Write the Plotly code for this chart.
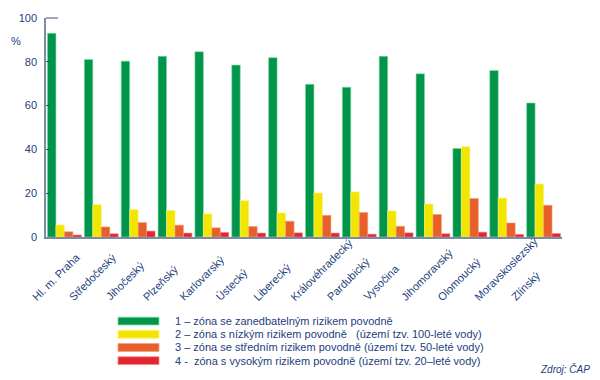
import plotly.graph_objects as go

categories = ["Hl. m. Praha", "Středočeský", "Jihočeský", "Plzeňský", "Karlovarský",
              "Ústecký", "Liberecký", "Královéhradecký", "Pardubický", "Vysočina",
              "Jihomoravský", "Olomoucký", "Moravskoslezský", "Zlínský"]
zone1 = [93.0, 81.0, 80.3, 82.5, 84.6, 78.5, 81.9, 69.7, 68.4, 82.5, 74.5, 40.4, 76.0, 61.2]
zone2 = [5.5, 14.8, 12.5, 12.1, 10.6, 16.6, 11.0, 20.1, 20.6, 11.9, 15.1, 41.2, 17.8, 24.2]
zone3 = [2.4, 4.6, 6.6, 5.4, 4.2, 4.8, 7.2, 9.9, 11.2, 4.9, 10.3, 17.6, 6.4, 14.5]
zone4 = [0.9, 1.5, 2.7, 1.8, 2.1, 1.8, 1.9, 1.8, 1.3, 1.9, 1.5, 2.2, 1.2, 1.6]
series_names = [
    "1 – zóna se zanedbatelným rizikem povodně",
    "2 – zóna s nízkým rizikem povodně   (území tzv. 100-leté vody)",
    "3 – zóna se středním rizikem povodně (území tzv. 50-leté vody)",
    "4 -  zóna s vysokým rizikem povodně (území tzv. 20–leté vody)",
]
y_ticks = [0, 20, 40, 60, 80, 100]

colors = ["#00954a", "#f2e500", "#e85f2a", "#e3262d"]
edges = ["#7fdca6", "#fbf47a", "#f4a07e", "#f08a8a"]
text_col = "#23407e"
axis_col = "#7c8aa6"
FONT = "Arial, Liberation Sans, sans-serif"
LABEL_SIZE = 11

fig = go.Figure()
for name, vals, c, e in zip(series_names, [zone1, zone2, zone3, zone4], colors, edges):
    fig.add_trace(go.Bar(x=categories, y=vals, name=name, marker=dict(color=c, line=dict(color=e, width=0.6)),
                         showlegend=False))

# plot area geometry (pixels)
L, R, T, B = 46, 562, 13, 237
W, H = R - L, B - T
STEP = W / len(categories)

def px_x(px):
    return (px - L) / W

def px_y(py):
    return (B - py) / H

# approximate Arial advance widths (per 1000 em) to centre the rotated labels
_w = {" ": 278, ".": 278, "a": 556, "b": 556, "c": 500, "d": 556, "e": 556, "f": 278, "g": 556,
      "h": 556, "i": 222, "j": 222, "k": 500, "l": 222, "m": 833, "n": 556, "o": 556, "p": 556,
      "r": 333, "s": 500, "t": 278, "u": 556, "v": 500, "w": 722, "y": 500, "z": 500,
      "H": 722, "K": 667, "J": 500, "P": 667, "S": 667, "V": 667, "U": 722, "O": 778,
      "M": 833, "L": 556, "Z": 611}
_base = str.maketrans("áčéěíňóřšťúůýžÚŽŘČŠ", "aceeinorstuuyzUZRCS")

def text_width(s, size):
    return sum(_w.get(ch, 556) for ch in s.translate(_base)) * size / 1000.0

# category labels: rotated 45°, all starting on a common line below the axis
c45 = 0.7071
for i, cat in enumerate(categories):
    lt = text_width(cat, LABEL_SIZE)
    start_x = 37 + STEP * i
    start_y = 302
    cx = start_x + (lt / 2) * c45 - 3.9 * c45
    cy = start_y - (lt / 2) * c45 - 3.9 * c45
    centre = L + STEP * (i + 0.5)
    fig.add_annotation(xref="x", yref="paper", x=cat, y=px_y(cy), text=cat,
                       textangle=-45, showarrow=False, xanchor="center", yanchor="middle",
                       xshift=cx - centre, font=dict(family=FONT, size=LABEL_SIZE, color=text_col))

row_y = [323, 336.5, 350, 363.5]
for name, c, e, ry in zip(series_names, colors, edges, row_y):
    fig.add_shape(type="rect", xref="paper", yref="paper",
                  x0=px_x(118), x1=px_x(159), y0=px_y(ry + 4), y1=px_y(ry - 4),
                  fillcolor=c, line=dict(color=e, width=0.8))
    fig.add_annotation(xref="paper", yref="paper", x=px_x(173), y=px_y(ry),
                       text=name, showarrow=False, xanchor="left", yanchor="middle",
                       font=dict(family=FONT, size=11, color=text_col))

fig.add_annotation(xref="paper", yref="paper", x=px_x(592), y=px_y(372), text="<i>Zdroj: ČAP</i>",
                   showarrow=False, xanchor="right", yanchor="middle",
                   font=dict(family=FONT, size=10, color=text_col))
fig.add_annotation(xref="paper", yref="paper", x=px_x(16), y=px_y(37), text="%",
                   showarrow=False, xanchor="center", yanchor="middle",
                   font=dict(family=FONT, size=11, color=text_col))

fig.update_layout(
    width=600, height=380,
    margin=dict(l=L, r=600 - R, t=T, b=380 - B),
    paper_bgcolor="white", plot_bgcolor="white",
    barmode="group", bargap=0.08, bargroupgap=0,
    font=dict(family=FONT, size=11, color=text_col),
)
fig.update_xaxes(range=[-0.5, len(categories) - 0.5], autorange=False,
                 showline=True, linecolor=axis_col, linewidth=1.5, showticklabels=False,
                 ticks="", showgrid=False)
fig.update_yaxes(range=[0, 100], tickvals=y_ticks, showline=True, linecolor=axis_col, linewidth=1.5,
                 ticks="inside", ticklen=4, tickcolor="#2c4a80", showgrid=False, zeroline=False,
                 tickfont=dict(size=11, color=text_col), ticklabelstandoff=5)
fig.add_shape(type="line", xref="paper", yref="paper", x0=0, x1=px_x(58), y0=1, y1=1,
              line=dict(color=axis_col, width=1.5))

fig.write_html("out.html", config={"displayModeBar": False},
               post_script="document.body.style.margin='0';document.body.style.overflow='hidden';")
